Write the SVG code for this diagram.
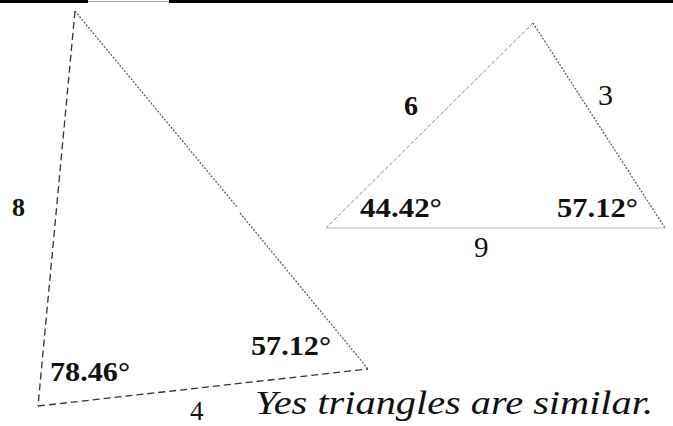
<svg xmlns="http://www.w3.org/2000/svg" width="673" height="426" viewBox="0 0 673 426">
<style>
text{font-family:'Liberation Serif','Times New Roman',Times,Tinos,'Nimbus Roman','Nimbus Roman No9 L','FreeSerif','DejaVu Serif',serif;fill:#111}
.b{font-weight:bold}
.i{font-style:italic}
.dash{stroke:#333;stroke-width:1.3;fill:none;stroke-dasharray:7 4}
.dot{stroke:#555;stroke-width:1.2;fill:none;stroke-dasharray:2 1.5}
.thin{stroke:#888;stroke-width:1;fill:none;stroke-dasharray:4 2}
.solid{stroke:#bbb;stroke-width:1.2;fill:none}
</style>
<rect width="673" height="426" fill="#fff"/>
<g id="header">
<line x1="0" y1="1.5" x2="88" y2="1.5" stroke="#000" stroke-width="3"/>
<line x1="88" y1="1.5" x2="169" y2="1.5" stroke="#aaa" stroke-width="1"/>
<line x1="169" y1="1.5" x2="673" y2="1.5" stroke="#000" stroke-width="3"/>
</g>
<g id="connectors">
<line class="dash" x1="75" y1="11" x2="38" y2="406"/>
<line class="dash" x1="38" y1="406" x2="368" y2="369"/>
<line class="dot" x1="75" y1="11" x2="237" y2="207"/>
<line class="dot" x1="240" y1="213" x2="368" y2="369"/>
<line class="thin" x1="533" y1="23" x2="326" y2="228"/>
<line class="dot" x1="533" y1="23" x2="665" y2="228"/>
<line class="solid" x1="326" y1="228" x2="665" y2="228"/>
</g>
<g id="triangle-left">
<text class="b" x="12" y="216" font-size="26">8</text>
<text class="b" x="50" y="381" font-size="28" textLength="80" lengthAdjust="spacingAndGlyphs">78.46°</text>
<text class="b" x="251" y="355" font-size="28" textLength="80" lengthAdjust="spacingAndGlyphs">57.12°</text>
<text x="190" y="420" font-size="27">4</text>
</g>
<g id="triangle-right">
<text class="b" x="404" y="115" font-size="28">6</text>
<text x="598" y="105" font-size="30">3</text>
<text class="b" x="360" y="217" font-size="28" textLength="82" lengthAdjust="spacingAndGlyphs">44.42°</text>
<text class="b" x="557" y="217" font-size="28" textLength="81" lengthAdjust="spacingAndGlyphs">57.12°</text>
<text x="474" y="257" font-size="29">9</text>
</g>
<g id="caption">
<text class="i" x="255" y="414" font-size="33" textLength="398" lengthAdjust="spacingAndGlyphs">Yes triangles are similar.</text>
</g>
</svg>
